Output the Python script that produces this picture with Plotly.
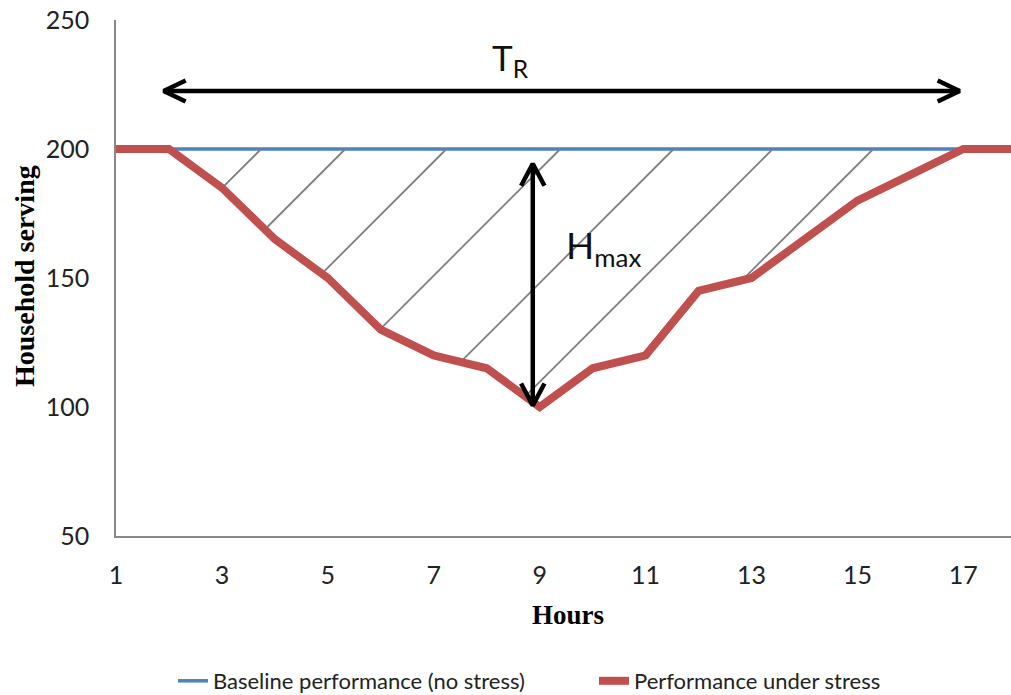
import numpy as np
import plotly.graph_objects as go

# ---------------- data ----------------
hours = list(range(1, 19))
baseline = [200] * 18
stress = [200, 200, 185, 165, 150, 130, 120, 115, 100, 115, 120, 145, 150, 165, 180, 190, 200, 200]
x_tick_vals = [1, 3, 5, 7, 9, 11, 13, 15, 17]
y_tick_vals = [50, 100, 150, 200, 250]
hatch_tops = [3.74, 5.33, 7.24, 9.39, 11.53, 13.40, 15.30]   # where hatch lines meet the baseline

tr_from, tr_to, tr_level = 1.9, 16.93, 222.5      # T_R arrow
hm_x, hm_low, hm_high = 8.87, 100.6, 194.3        # H_max arrow

# ---------------- geometry ----------------
W, H = 1011, 695
M = dict(l=116, r=0, t=20, b=159)
x_range = [1, 17.9]
y_range = [50, 250]
PW = W - M["l"] - M["r"]
PH = H - M["t"] - M["b"]
px_x = PW / (x_range[1] - x_range[0])
px_y = PH / (y_range[1] - y_range[0])
slope = px_x / px_y   # 45 degree on screen

BLUE = "#4F81BD"
RED = "#C0504D"
FONT = "Lato"

fig = go.Figure()

fig.add_trace(go.Scatter(x=hours, y=baseline, mode="lines",
                         line=dict(color=BLUE, width=3.5),
                         name="Baseline performance (no stress)", legend="legend"))

# hatch lines
hx, hy = [], []
for xt in hatch_tops:
    ytop = float(np.interp(xt, hours, baseline))
    xs = np.linspace(xt, hours[0], 40000)
    ys = ytop - slope * (xt - xs)
    curve = np.interp(xs, hours, stress)
    idx = int(np.argmax(ys <= curve))
    hx += [xt, xs[idx], None]
    hy += [ytop, ys[idx], None]
fig.add_trace(go.Scatter(x=hx, y=hy, mode="lines", line=dict(color="#808080", width=1.8),
                         showlegend=False, hoverinfo="skip"))

fig.add_trace(go.Scatter(x=hours, y=stress, mode="lines",
                         line=dict(color=RED, width=8),
                         name="Performance under stress", legend="legend2"))

# arrows
ax_, ay_ = [], []
ax_ += [tr_from, tr_to, None]
ay_ += [tr_level, tr_level, None]
adx, ady = 22 / px_x, 10.5 / px_y
ax_ += [tr_from + adx, tr_from, tr_from + adx, None]
ay_ += [tr_level + ady, tr_level, tr_level - ady, None]
ax_ += [tr_to - adx, tr_to, tr_to - adx, None]
ay_ += [tr_level + ady, tr_level, tr_level - ady, None]
ax_ += [hm_x, hm_x, None]
ay_ += [hm_low, hm_high, None]
vdx, vdy = 11.7 / px_x, 22 / px_y
ax_ += [hm_x - vdx, hm_x, hm_x + vdx, None]
ay_ += [hm_high - vdy, hm_high, hm_high - vdy, None]
ax_ += [hm_x - vdx, hm_x, hm_x + vdx, None]
ay_ += [hm_low + vdy, hm_low, hm_low + vdy, None]
fig.add_trace(go.Scatter(x=ax_, y=ay_, mode="lines", line=dict(color="black", width=4.5),
                         showlegend=False, hoverinfo="skip"))

annotations = [
    dict(x=8.44, y=234.5, xref="x", yref="y", text="T<sub>R</sub>", showarrow=False,
         font=dict(family=FONT, size=35, color="#111")),
    dict(x=10.2, y=162, xref="x", yref="y", text="H<sub>max</sub>", showarrow=False,
         font=dict(family=FONT, size=37, color="#111")),
    dict(x=(568 - M["l"]) / PW, y=(536 - 615) / PH, xref="paper", yref="paper",
         xanchor="center", yanchor="middle",
         text="<b>Hours</b>", showarrow=False,
         font=dict(family="Liberation Serif", size=27, color="#000")),
    dict(x=(24 - M["l"]) / PW, y=(536 - 276) / PH, xref="paper", yref="paper",
         xanchor="center", yanchor="middle",
         text="<b>Household serving</b>", showarrow=False, textangle=-90,
         font=dict(family="Liberation Serif", size=28, color="#000")),
]

legend_common = dict(orientation="h", yref="container", yanchor="middle", y=(H - 681) / H,
                     xanchor="left", font=dict(family=FONT, size=22, color="#222"),
                     bgcolor="rgba(0,0,0,0)", itemwidth=30, borderwidth=0)

fig.update_layout(
    width=W, height=H, margin=M,
    paper_bgcolor="white", plot_bgcolor="white",
    showlegend=True,
    legend=dict(legend_common, x=(173 - M["l"]) / PW),
    legend2=dict(legend_common, x=(594 - M["l"]) / PW),
    annotations=annotations,
    xaxis=dict(range=x_range, tickvals=x_tick_vals, ticktext=[str(v) for v in x_tick_vals],
               showgrid=False, zeroline=False, showline=True, linecolor="#888", linewidth=1.5,
               ticks="", ticklabelstandoff=16,
               tickfont=dict(family=FONT, size=25, color="#222")),
    yaxis=dict(range=y_range, tickvals=y_tick_vals, showgrid=False, zeroline=False,
               showline=True, linecolor="#888", linewidth=1.5, ticks="", ticklabelstandoff=20,
               tickfont=dict(family=FONT, size=25, color="#222")),
)

fig.write_html("out.html")
